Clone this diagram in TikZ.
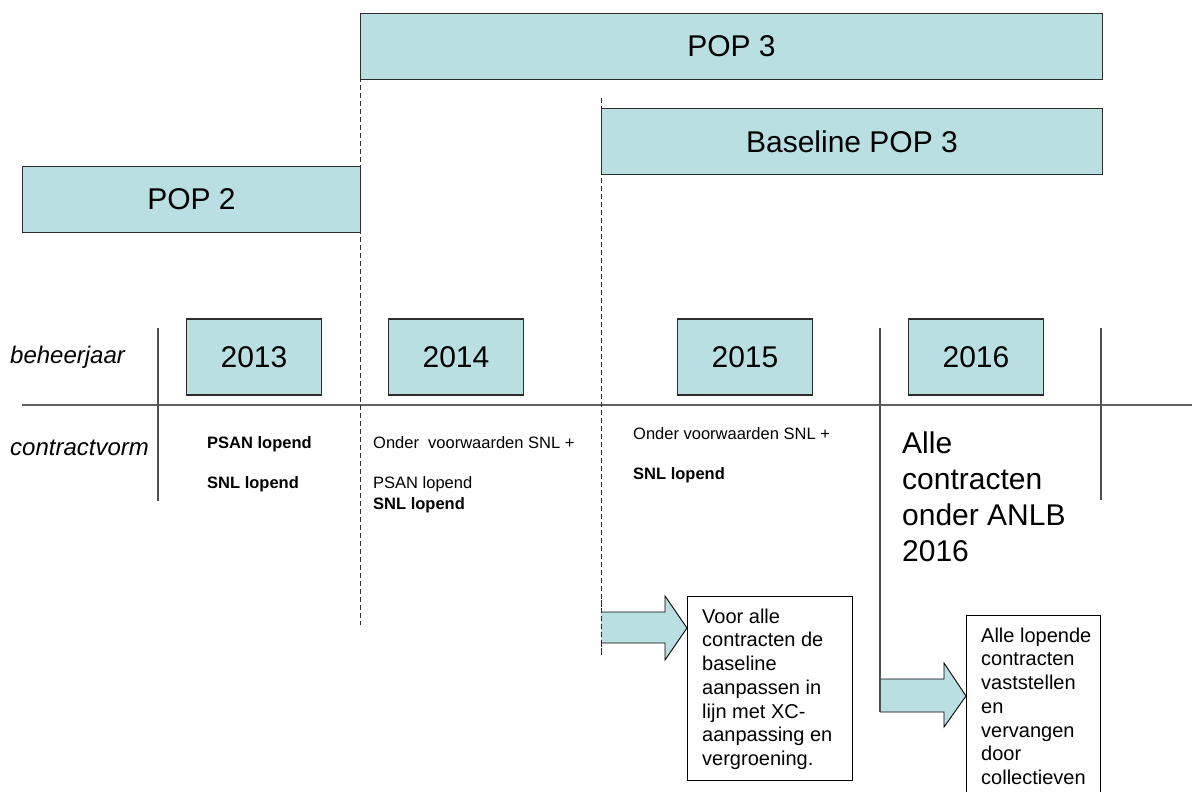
\documentclass[tikz,border=0pt]{standalone}
\usepackage{fontspec}
\setmainfont{Liberation Sans}
\definecolor{popfill}{RGB}{185,223,227}
\definecolor{gridgray}{RGB}{80,80,80}
\definecolor{edgegray}{RGB}{45,45,45}
\begin{document}
\begin{tikzpicture}[x=1pt,y=-1pt,
  bar/.style={draw=edgegray, line width=0.9pt, fill=popfill, inner sep=0pt, anchor=north west,
    font=\fontsize{30}{36}\selectfont},
  yearbox/.style={draw=edgegray, line width=1.1pt, fill=popfill, inner sep=0pt,
    minimum width=135, minimum height=76, font=\fontsize{30}{36}\selectfont},
  gridline/.style={draw=gridgray, line width=1.4pt},
  hline/.style={draw=gridgray!90, line width=2pt},
  dashline/.style={draw=edgegray, line width=1pt, dash pattern=on 5pt off 3pt},
  side/.style={anchor=base west, inner sep=0pt, font=\fontsize{24}{28}\selectfont\itshape},
  lbl/.style={anchor=base west, inner sep=0pt, font=\fontsize{16.5}{19}\selectfont},
  lblb/.style={anchor=base west, inner sep=0pt, font=\fontsize{16.5}{19}\selectfont\bfseries},
  notebox/.style={draw=black, line width=0.9pt, fill=white, inner sep=0pt, anchor=north west},
  notetext/.style={anchor=north west, inner sep=0pt, align=left, font=\fontsize{20}{23.7}\selectfont},
  blockarrow/.style={fill=popfill},
  blockedge/.style={draw=black, line width=0.9pt, line join=miter},
]
\clip (0,0) rectangle (1192,792);
\useasboundingbox (0,0) rectangle (1192,792);

% period bars
\node[bar, minimum width=742, minimum height=66] (pop3) at (360,13) {POP 3};
\node[bar, minimum width=501, minimum height=66] (base3) at (601,108) {Baseline POP 3};
\node[bar, minimum width=338, minimum height=66] (pop2) at (22,166) {POP 2};

% grid
\draw[hline] (22,405) -- (1192,405);
\draw[gridline] (158,328) -- (158,501);
\draw[gridline] (1101,328) -- (1101,500);
\coordinate (v16top) at (880,328);
\coordinate (v16bot) at (880,712);
\draw[gridline] (v16top) -- (v16bot);

% dashed period boundaries
\coordinate (d1top) at (360,13);
\coordinate (d1bot) at (360,625);
\coordinate (d2top) at (601,98);
\coordinate (d2bot) at (601,655);
\draw[dashline] (d1top) -- (d1bot);
\draw[dashline] (d2top) -- (d2bot);

% year boxes
\node[yearbox] (y2013) at (254,357) {2013};
\node[yearbox] (y2014) at (456,357) {2014};
\node[yearbox] (y2015) at (745,357) {2015};
\node[yearbox] (y2016) at (976,357) {2016};

% row labels
\node[side] (beheer) at (10,363) {beheerjaar};
\node[side] (contract) at (10,455) {contractvorm};

% contract texts
\node[lblb] (c13a) at (207,448) {PSAN lopend};
\node[lblb] (c13b) at (207,488) {SNL lopend};
\node[lbl] (c14a) at (373,448) {Onder\ \ voorwaarden SNL +};
\node[lbl] (c14b) at (373,488) {PSAN lopend};
\node[lblb] (c14c) at (373,509) {SNL lopend};
\node[lbl] (c15a) at (633,439) {Onder voorwaarden SNL +};
\node[lblb] (c15b) at (633,479) {SNL lopend};
\node[anchor=north west, inner sep=0pt, align=left, font=\fontsize{30}{36}\selectfont]
  (c16) at (902,431.5) {Alle\\contracten\\onder ANLB\\2016};

% note boxes
\node[notebox, minimum width=165, minimum height=184] (note1) at (687,596) {};
\node[notetext] (note1t) at (702,608.6) {Voor alle\\contracten de\\baseline\\aanpassen in\\lijn met XC-\\aanpassing en\\vergroening.};
\node[notebox, minimum width=134, minimum height=190] (note2) at (966,615) {};
\node[notetext] (note2t) at (981,627.6) {Alle lopende\\contracten\\vaststellen\\en\\vervangen\\door\\collectieven};

% block arrows
\fill[blockarrow] (d2bot |- 0,612) -- (665,612) -- (665,596) -- (note1.west |- 0,628) -- (665,660) -- (665,643) -- (d2bot |- 0,643) -- cycle;
\draw[blockedge] (d2bot |- 0,612) -- (665,612) -- (665,596) -- (note1.west |- 0,628) -- (665,660) -- (665,643) -- (d2bot |- 0,643);
\draw[dashline] (601,600) -- (d2bot);

\fill[blockarrow] (v16bot |- 0,679) -- (944,679) -- (944,663) -- (note2.west |- 0,696) -- (944,727) -- (944,712) -- (v16bot) -- cycle;
\draw[blockedge] (v16bot |- 0,679) -- (944,679) -- (944,663) -- (note2.west |- 0,696) -- (944,727) -- (944,712) -- (v16bot);
\draw[gridline] (v16bot |- 0,670) -- (v16bot);
\end{tikzpicture}
\end{document}
